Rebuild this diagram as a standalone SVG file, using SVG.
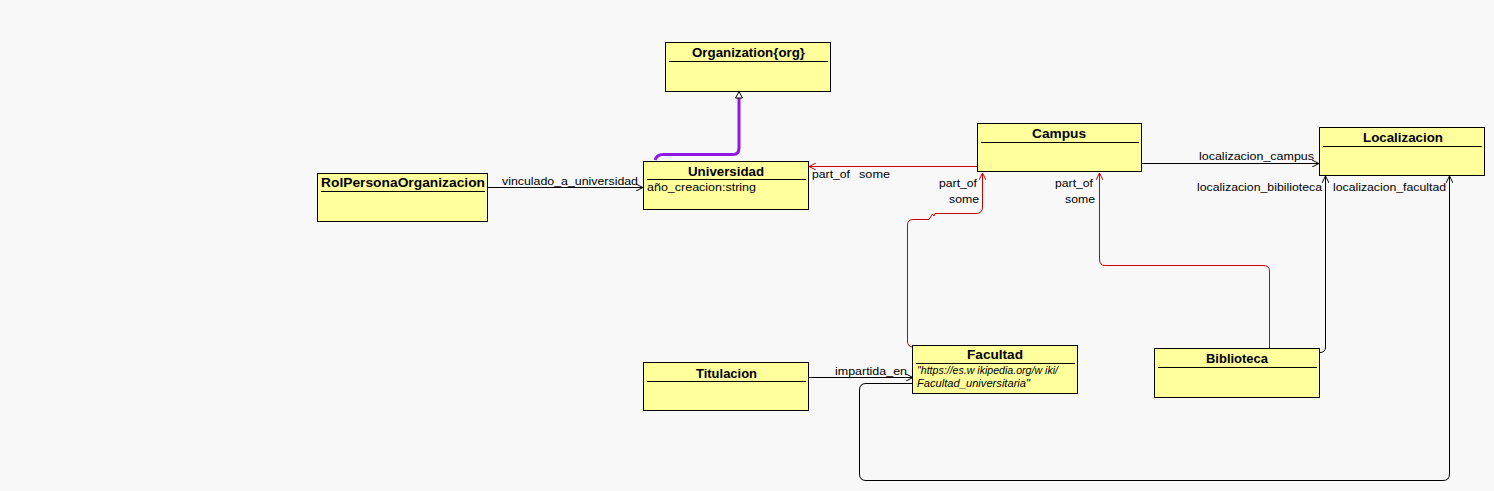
<svg xmlns="http://www.w3.org/2000/svg" width="1494" height="491" viewBox="0 0 1494 491">
<defs>
<style>
.box{fill:#ffff9c;stroke:#000;stroke-width:1}
.hl{stroke:#000;stroke-width:1}
.t{font-family:"Liberation Sans",Arial,sans-serif;font-weight:bold;font-size:13px;fill:#000}
.a{font-family:"Liberation Sans",Arial,sans-serif;font-size:11.5px;fill:#000}
.i{font-family:"Liberation Sans",Arial,sans-serif;font-style:italic;font-size:10.5px;fill:#000}
.lbl{font-family:"Liberation Sans",Arial,sans-serif;font-size:11.5px;fill:#000}
.blk{fill:none;stroke:#000;stroke-width:1}
.red{fill:none;stroke:#c80000;stroke-width:1}
.gen{fill:none;stroke:#8e18e6;stroke-width:3}
</style>
<marker id="ab" viewBox="0 0 10 10" refX="10" refY="5" markerWidth="7" markerHeight="7" markerUnits="userSpaceOnUse" orient="auto">
<path d="M0,0 L10,5 L0,10" fill="none" stroke="#000" stroke-width="1.4"/>
</marker>
<marker id="ar" viewBox="0 0 10 10" refX="10" refY="5" markerWidth="7" markerHeight="7" markerUnits="userSpaceOnUse" orient="auto">
<path d="M0,0 L10,5 L0,10" fill="none" stroke="#c80000" stroke-width="1.4"/>
</marker>
</defs>
<rect width="1494" height="491" fill="#f8f8f8"/>

<g id="connectors">
<path class="gen" d="M655,160 Q657,154.5 663,154.5 L733,154.5 Q739,154.5 739,148 L739,98"/>
<path d="M739,91.5 L742.5,98 L735.5,98 Z" fill="#fff" stroke="#000" stroke-width="1"/>
<path class="blk" d="M487,187.5 L643,187.5" marker-end="url(#ab)"/>
<text class="lbl" x="502" y="185" textLength="136" lengthAdjust="spacingAndGlyphs">vinculado_a_universidad</text>
<path class="red" d="M977,166.5 L809,166.5" marker-end="url(#ar)"/>
<text class="lbl" x="812" y="178" textLength="38" lengthAdjust="spacingAndGlyphs">part_of</text>
<text class="lbl" x="859" y="178" textLength="31" lengthAdjust="spacingAndGlyphs">some</text>
<path class="blk" d="M1141,163.5 L1319,163.5" marker-end="url(#ab)"/>
<text class="lbl" x="1199" y="160" textLength="115" lengthAdjust="spacingAndGlyphs">localizacion_campus</text>
<path class="red" d="M913,347 Q907.5,347 907.5,341 L907.5,225 Q907.5,219.5 913,219.5 L929,219.5 L932.5,214 L934,216 L935,213.5 L976,213.5 Q982.5,213.5 982.5,207 L982.5,173" marker-end="url(#ar)"/>
<text class="lbl" x="939" y="187" textLength="38" lengthAdjust="spacingAndGlyphs">part_of</text>
<text class="lbl" x="949" y="203" textLength="30" lengthAdjust="spacingAndGlyphs">some</text>
<path class="red" d="M1269.5,348 L1269.5,271 Q1269.5,265.5 1263,265.5 L1105,265.5 Q1099.5,265.5 1099.5,259 L1099.5,173" marker-end="url(#ar)"/>
<text class="lbl" x="1055" y="187" textLength="38" lengthAdjust="spacingAndGlyphs">part_of</text>
<text class="lbl" x="1065" y="203" textLength="30" lengthAdjust="spacingAndGlyphs">some</text>
<path class="blk" d="M1320,352.5 Q1325.5,352.5 1325.5,347 L1325.5,176" marker-end="url(#ab)"/>
<text class="lbl" x="1197" y="191" textLength="125" lengthAdjust="spacingAndGlyphs">localizacion_bibilioteca</text>
<path class="blk" d="M913,383.5 L866,383.5 Q859.5,383.5 859.5,390 L859.5,474 Q859.5,480.5 866,480.5 L1443,480.5 Q1449.5,480.5 1449.5,474 L1449.5,176" marker-end="url(#ab)"/>
<text class="lbl" x="1333" y="191" textLength="113" lengthAdjust="spacingAndGlyphs">localizacion_facultad</text>
<path class="blk" d="M808,377.5 L913,377.5" marker-end="url(#ab)"/>
<text class="lbl" x="835" y="375" textLength="72" lengthAdjust="spacingAndGlyphs">impartida_en</text>
</g>

<g id="organization">
<rect class="box" x="665.5" y="42.5" width="165" height="49"/>
<line class="hl" x1="669" y1="61.5" x2="828" y2="61.5"/>
<text class="t" x="692" y="57" textLength="113" lengthAdjust="spacingAndGlyphs">Organization{org}</text>
</g>

<g id="rolpersona">
<rect class="box" x="317.5" y="173.5" width="170" height="48"/>
<line class="hl" x1="321" y1="191.5" x2="485" y2="191.5"/>
<text class="t" x="321" y="187" textLength="164" lengthAdjust="spacingAndGlyphs">RolPersonaOrganizacion</text>
</g>

<g id="universidad">
<rect class="box" x="643.5" y="161.5" width="165" height="48"/>
<line class="hl" x1="647" y1="179.5" x2="806" y2="179.5"/>
<text class="t" x="688" y="176" textLength="76" lengthAdjust="spacingAndGlyphs">Universidad</text>
<text class="a" x="647" y="191" textLength="109" lengthAdjust="spacingAndGlyphs">año_creacion:string</text>
</g>

<g id="campus">
<rect class="box" x="977.5" y="123.5" width="164" height="48"/>
<line class="hl" x1="981" y1="142.5" x2="1139" y2="142.5"/>
<text class="t" x="1032" y="138" textLength="54" lengthAdjust="spacingAndGlyphs">Campus</text>
</g>

<g id="localizacion">
<rect class="box" x="1319.5" y="127.5" width="165" height="48"/>
<line class="hl" x1="1323" y1="146.5" x2="1482" y2="146.5"/>
<text class="t" x="1363" y="142" textLength="80" lengthAdjust="spacingAndGlyphs">Localizacion</text>
</g>

<g id="titulacion">
<rect class="box" x="643.5" y="362.5" width="165" height="48"/>
<line class="hl" x1="647" y1="381.5" x2="806" y2="381.5"/>
<text class="t" x="696" y="378" textLength="61" lengthAdjust="spacingAndGlyphs">Titulacion</text>
</g>

<g id="facultad">
<rect class="box" x="912.5" y="345.5" width="165" height="48"/>
<line class="hl" x1="916" y1="363.5" x2="1075" y2="363.5"/>
<text class="t" x="967" y="359" textLength="56" lengthAdjust="spacingAndGlyphs">Facultad</text>
<text class="i" x="917" y="374" textLength="141" lengthAdjust="spacingAndGlyphs">"https://es.w ikipedia.org/w iki/</text>
<text class="i" x="917" y="387" textLength="113" lengthAdjust="spacingAndGlyphs">Facultad_universitaria"</text>
</g>

<g id="biblioteca">
<rect class="box" x="1154.5" y="348.5" width="165" height="49"/>
<line class="hl" x1="1158" y1="367.5" x2="1317" y2="367.5"/>
<text class="t" x="1206" y="363" textLength="62" lengthAdjust="spacingAndGlyphs">Biblioteca</text>
</g>
</svg>
